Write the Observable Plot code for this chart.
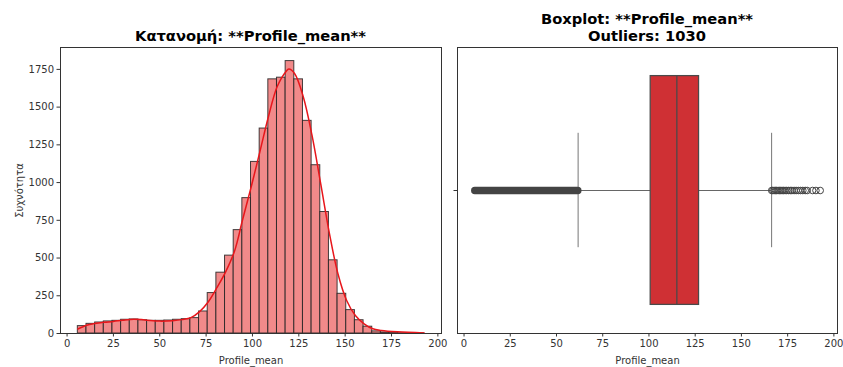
<!DOCTYPE html>
<html>
<head>
<meta charset="utf-8">
<script src="https://cdn.jsdelivr.net/npm/d3@7"></script>
<script src="https://cdn.jsdelivr.net/npm/@observablehq/plot@0.6"></script>
<style>
  html, body { margin: 0; padding: 0; background: white; }
  #fig { position: relative; width: 843px; height: 367px; overflow: hidden; font-family: "DejaVu Sans", sans-serif; background: white; }
  .panel { position: absolute; top: 0; z-index: 1; }
  .title { position: absolute; z-index: 2; font-family: "DejaVu Sans", sans-serif; font-weight: bold; font-size: 14.7px; line-height: 17.5px; text-align: center; color: #000; white-space: nowrap; }
</style>
</head>
<body>
<div id="fig">
  <div class="panel" id="left" style="left:0px;"></div>
  <div class="panel" id="right" style="left:450px;"></div>
  <div class="title" style="left:60px; width:381px; top:27px;">Κατανομή: **Profile_mean**</div>
  <div class="title" style="left:457px; width:380px; top:9.5px;">Boxplot: **Profile_mean**<br>Outliers: 1030</div>
</div>
<script>
// ---------- data ----------
const binMin = 5.81;
const binMax = 192.62;
const binCounts = [49, 64, 73, 80, 84, 91, 93, 88, 84, 84,
                   86, 91, 95, 102, 146, 268, 403, 516, 685, 897,
                   1137, 1358, 1684, 1695, 1805, 1684, 1409, 1115, 805, 485,
                   263, 155, 88, 45, 14, 7, 3, 2, 1, 1];
const kdeX = [5.8, 10.6, 15, 20, 25, 30, 36, 42, 50, 57, 62, 66.8, 71.5, 76.2, 80.9, 85.6, 90.3, 94.6,
              99.3, 104, 108.6, 113.3, 118, 119.6, 122.7, 127.4, 132.1, 136.8, 141.5, 146.1, 150.8,
              155.5, 160.2, 164.9, 169.5, 178.2, 192.6];
const kdeY = [30, 55, 66, 74, 80, 88, 95, 90, 82, 85, 92, 105, 145, 210, 305, 410, 545, 750,
              971, 1204, 1436, 1635, 1735, 1752, 1723, 1569, 1314, 993, 664, 396, 219,
              119, 64, 31, 20, 11, 4];
const xTicks = [0, 25, 50, 75, 100, 125, 150, 175, 200];
const yTicks = [0, 250, 500, 750, 1000, 1250, 1500, 1750];

const boxQuartiles = [100.93, 115.08, 127.09];   // Q1, median, Q3
const whiskerEnds = [61.69, 166.33];
const leftOutlierSpan = [5.81, 61.5];
const rightOutliers = [166.4, 167, 167.7, 168.4, 169, 169.8, 170.5, 171.3, 172, 172.8, 173.6,
                       174.5, 175.4, 176.4, 177.3, 178.5, 179.6, 180.8, 182, 183.2, 184.5,
                       185.6, 188.5, 190.3, 192.6];

// ---------- tables ----------
const nb = binCounts.length;
const bw = (binMax - binMin) / nb;
const bins = binCounts.map((c, i) => ({x1: binMin + i * bw, x2: binMin + (i + 1) * bw, count: c}));
const kde = kdeX.map((x, i) => ({x, y: kdeY[i]}));
const xDomain = [-3.54, 201.96];

const baseStyle = {fontFamily: "DejaVu Sans, sans-serif", fontSize: "10px", color: "#333", background: "transparent", overflow: "visible"};

const left = Plot.plot({
  width: 450, height: 367,
  marginLeft: 60, marginRight: 9, marginTop: 47, marginBottom: 34,
  x: {domain: xDomain},
  y: {domain: [0, 1895]},
  style: baseStyle,
  marks: [
    Plot.rectY(bins, {x1: "x1", x2: "x2", y: "count", fill: "#f18a8a", stroke: "#222", strokeWidth: 1, strokeOpacity: 0.85}),
    Plot.line(kde, {x: "x", y: "y", stroke: "#e8161b", strokeWidth: 1.5, curve: "catmull-rom"}),
    Plot.frame({stroke: "#333", strokeWidth: 1}),
    Plot.axisX({ticks: xTicks, tickSize: 3.5, tickPadding: 3, tickFormat: d => String(d), color: "#333",
      label: "Profile_mean", labelAnchor: "center", labelArrow: "none", labelOffset: 30}),
    Plot.axisY({ticks: yTicks, tickSize: 3.5, tickPadding: 3, tickFormat: d => String(d), color: "#333",
      label: "Συχνότητα", labelAnchor: "center", labelArrow: "none", labelOffset: 45})
  ]
});
document.getElementById("left").appendChild(left);

const right = Plot.plot({
  width: 393, height: 367,
  marginLeft: 7, marginRight: 6, marginTop: 47, marginBottom: 34,
  x: {domain: xDomain},
  y: {domain: [-0.5, 0.5]},
  style: baseStyle,
  marks: [
    Plot.ruleY([0], {x1: whiskerEnds[0], x2: boxQuartiles[0], stroke: "#666", strokeWidth: 1}),
    Plot.ruleY([0], {x1: boxQuartiles[2], x2: whiskerEnds[1], stroke: "#666", strokeWidth: 1}),
    Plot.ruleX(whiskerEnds, {x: d => d, y1: -0.2, y2: 0.2, stroke: "#777", strokeWidth: 1}),
    Plot.rect([boxQuartiles], {x1: d => d[0], x2: d => d[2], y1: -0.4, y2: 0.4, fill: "#cf3034", stroke: "#4a4a4a", strokeWidth: 1.25}),
    Plot.ruleX([boxQuartiles[1]], {x: d => d, y1: -0.4, y2: 0.4, stroke: "#4a4a4a", strokeWidth: 1.25}),
    Plot.line(leftOutlierSpan.map(v => ({x: v, y: 0})), {x: "x", y: "y", stroke: "#444", strokeWidth: 7.5, strokeLinecap: "round"}),
    Plot.dot(rightOutliers, {x: d => d, y: 0, r: 3.3, stroke: "#444", fill: "none", strokeWidth: 1}),
    Plot.frame({stroke: "#333", strokeWidth: 1}),
    Plot.axisX({ticks: xTicks, tickSize: 3.5, tickPadding: 3, tickFormat: d => String(d), color: "#333",
      label: "Profile_mean", labelAnchor: "center", labelArrow: "none", labelOffset: 30}),
    Plot.axisY({ticks: [0], tickSize: 3.5, tickFormat: () => "", label: null, color: "#333"})
  ]
});
document.getElementById("right").appendChild(right);
</script>
</body>
</html>
